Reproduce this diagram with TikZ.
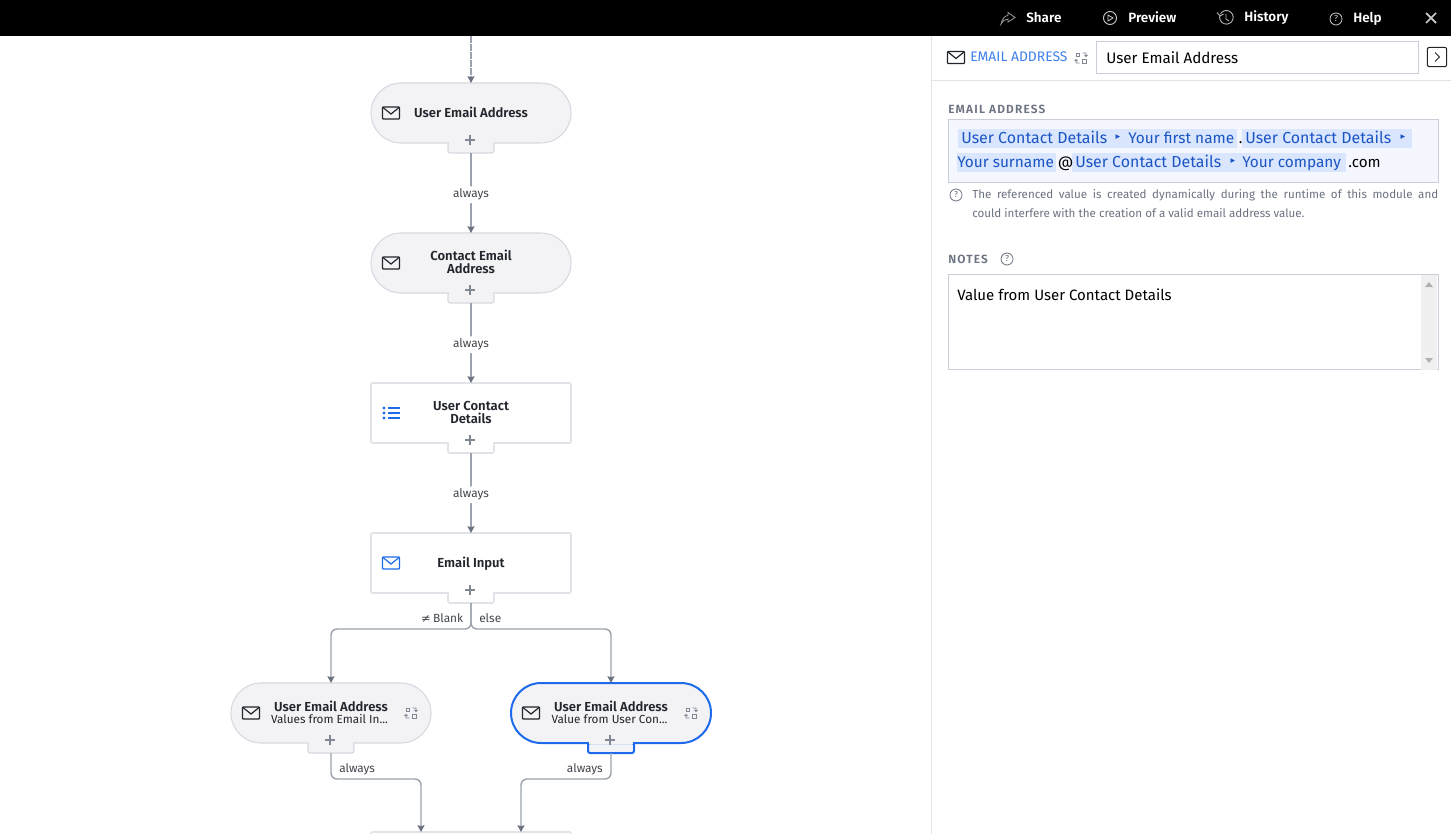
\documentclass[tikz,border=0pt]{standalone}
\usepackage{fontspec}
\setmainfont{Fira Sans}[BoldFont={Fira Sans SemiBold}]
\newfontfamily\symfont{DejaVu Sans}
\newfontfamily\fieldfont{Fira Sans SemiBold}[LetterSpace=10]
\usetikzlibrary{arrows.meta}
\definecolor{pillfill}{HTML}{F3F3F6}
\definecolor{pillline}{HTML}{D8D9E0}
\definecolor{boxline}{HTML}{E2E3E9}
\definecolor{wire}{HTML}{9CA3AF}
\definecolor{wiretip}{HTML}{6B7280}
\definecolor{selblue}{HTML}{1D6AEB}
\definecolor{inkdark}{HTML}{21252C}
\definecolor{greylabel}{HTML}{6B7280}
\definecolor{inputline}{HTML}{C9CED8}
\definecolor{chipfill}{HTML}{D9E6FD}
\definecolor{chiptext}{HTML}{1B55C4}
\definecolor{boxtint}{HTML}{F4F7FE}
\tikzset{
	flowtext/.style={font=\fontsize{9.8pt}{9.75pt}\selectfont\bfseries,text=inkdark,align=center,inner sep=0pt},
	pillbox/.style={draw=pillline,fill=pillfill,line width=0.8pt,rounded corners=22.5pt,minimum width=150pt,minimum height=45pt,outer sep=0pt,inner sep=0pt},
	rectbox/.style={draw=boxline,fill=white,line width=1.2pt,rounded corners=1pt,minimum width=150pt,minimum height=45pt,outer sep=0pt,inner sep=0pt},
	selbox/.style={pillbox,draw=selblue,line width=1.5pt},
	subtext/.style={font=\fontsize{8.8pt}{9pt}\selectfont,text=inkdark,inner sep=0pt},
	wirelabel/.style={font=\fontsize{8.9pt}{10pt}\selectfont,text=inkdark!85,inner sep=0pt},
	midlabel/.style={wirelabel,fill=white,inner ysep=2pt,inner xsep=0pt,yshift=-1.3pt},
	link/.style={draw=wire,line width=1.1pt,->,>={Stealth[length=5pt,width=5.2pt,inset=0.6pt,color=wiretip]},rounded corners=4.5pt},
	plusline/.style={draw=wiretip!85,line width=1.1pt},
	icongrey/.style={draw=wiretip!85,line width=0.7pt},
	barlabel/.style={font=\fontsize{10.1pt}{11pt}\selectfont\bfseries,text=white,anchor=west,inner sep=0pt},
	fieldlabel/.style={font=\fieldfont\fontsize{8.9pt}{10pt}\selectfont,text=greylabel,anchor=west,inner sep=0pt},
	chiplabel/.style={font=\fontsize{11.95pt}{13pt}\selectfont,text=chiptext,anchor=base west,inner sep=0pt},
	yourlabel/.style={chiplabel,font=\fontsize{11.55pt}{13pt}\selectfont},
	plainlabel/.style={font=\fontsize{11.4pt}{13pt}\selectfont,text=black,anchor=base west,inner sep=0pt},
	hintlabel/.style={font=\fontsize{8.7pt}{10pt}\selectfont,text=greylabel,anchor=west,inner sep=0pt},
	helpmark/.style={circle,draw=greylabel,line width=0.6pt,text=greylabel,font=\fontsize{6.5pt}{7pt}\selectfont,minimum size=9pt,inner sep=0pt}
}
\newcommand{\addtab}[3]{%
	\node[#2,rounded corners=1.5pt,minimum width=34.5pt,minimum height=7.5pt,anchor=north] (#1T) at (#1.south) {};
	\fill[#3] ([shift={(-22,-2)}]#1.south) rectangle ([shift={(22,1.2)}]#1.south);
	\draw[plusline] ([shift={(-6,-3)}]#1.south) -- ([shift={(4,-3)}]#1.south);
	\draw[plusline] ([shift={(-1,-8)}]#1.south) -- ([shift={(-1,2)}]#1.south);
}
\newcommand{\mailicon}[3]{%
	\begin{scope}[shift={(#1,#2)}]
		\draw[#3,line width=0.9pt,rounded corners=0.6pt] (-8.5,-6) rectangle (8.5,6);
		\draw[#3,line width=0.9pt] (-8,-5.5) -- (0,1) -- (8,-5.5);
	\end{scope}
}
\newcommand{\swapicon}[2]{%
	\begin{scope}[shift={(#1,#2)}]
		\draw[icongrey] (-5,-5) rectangle (-1.5,-1.5);
		\draw[icongrey] (1.5,1.5) rectangle (5,5);
		\draw[icongrey] (1.5,-5) -- (5,-5) -- (5,-1.5) (3.5,-3) -- (5,-1.5) -- (6.5,-3);
		\draw[icongrey] (-1.5,5) -- (-5,5) -- (-5,1.5) (-3.5,3) -- (-5,1.5) -- (-6.5,3);
	\end{scope}
}
\begin{document}
	\begin{tikzpicture}[x=0.75pt,y=-0.75pt]
		\path[use as bounding box,clip] (0,0) rectangle (1451,834);
		\fill[white] (0,0) rectangle (1451,834);
		\fill[black] (0,0) rectangle (1451,36);
		\draw[boxline,line width=1.2pt] (931.5,36) -- (931.5,834);
		\draw[boxline,line width=0.8pt] (932,80.5) -- (1451,80.5);
		
		\node[pillbox] (userEmail) at (471,113) {};
		\node[flowtext] (userEmailTxt) at (471,112.2) {User Email Address};
		\node[pillbox] (contactEmail) at (471,263) {};
		\node[flowtext] (contactEmailTxt) at (471,261.8) {Contact Email\\Address};
		\node[rectbox] (contactDetails) at (471,413) {};
		\node[flowtext] (contactDetailsTxt) at (471,412.3) {User Contact\\Details};
		\node[rectbox] (emailInput) at (471,563) {};
		\node[flowtext] (emailInputTxt) at (471,563.3) {Email Input};
		\node[pillbox] (leftEmail) at (331,713) {};
		\node[flowtext] (leftEmailTxt) at (331,706) {User Email Address};
		\node[subtext] (leftEmailSub) at (329.5,719) {Values from Email In...};
		\node[selbox] (rightEmail) at (611,713) {};
		\node[flowtext] (rightEmailTxt) at (611,706) {User Email Address};
		\node[subtext] (rightEmailSub) at (609.5,719) {Value from User Con...};
		\node[rectbox] (nextStep) at (471,862) {};
		
		\addtab{userEmail}{pillbox}{pillfill}
		\addtab{contactEmail}{pillbox}{pillfill}
		\addtab{contactDetails}{rectbox}{white}
		\addtab{emailInput}{rectbox}{white}
		\addtab{leftEmail}{pillbox}{pillfill}
		\addtab{rightEmail}{selbox}{pillfill}
		
		\coordinate (topIn) at (471,36);
		\coordinate (mergeL) at (421,832);
		\coordinate (mergeR) at (521,832);
		\draw[link,dashed,dash pattern=on 5pt off 1pt] (topIn) -- (userEmail.north);
		\draw[link] (userEmailT.south) -- node[midlabel] (alwaysA) {always} (contactEmail.north);
		\draw[link] (contactEmailT.south) -- node[midlabel] (alwaysB) {always} (contactDetails.north);
		\draw[link] (contactDetailsT.south) -- node[midlabel] (alwaysC) {always} (emailInput.north);
		\draw[link] (emailInputT.south) -- ++(0,26) -| (leftEmail.north);
		\draw[link] (emailInputT.south) -- ++(0,26) -| (rightEmail.north);
		\draw[link] (leftEmailT.south) -- ++(0,26) -| (mergeL);
		\draw[link] (rightEmailT.south) -- ++(0,26) -| (mergeR);
		\node[wirelabel,anchor=east] (blankLbl) at (463.5,618.5) {{\symfont\fontsize{8.6pt}{9pt}\selectfont≠}\hspace{1.8pt}Blank};
		\node[wirelabel,anchor=west] (elseLbl) at (479,618.5) {else};
		\node[wirelabel,anchor=west] (alwaysD) at (339,769) {always};
		\node[wirelabel,anchor=east] (alwaysE) at (603,769) {always};
		
		\mailicon{391}{113}{inkdark}
		\mailicon{391}{263}{inkdark}
		\mailicon{391}{563}{selblue}
		\mailicon{251}{713}{inkdark}
		\mailicon{531}{713}{inkdark}
		\swapicon{411}{713}
		\swapicon{691}{713}
		\foreach \yy in {-5,0,5}{
			\fill[selblue] (384,413+\yy) circle(1.7);
			\draw[selblue,line width=0.9pt] (388,413+\yy) -- (400,413+\yy);
		}
		
		\node[barlabel] (shareLbl) at (1026,17.5) {Share};
		\node[barlabel] (previewLbl) at (1128,17.5) {Preview};
		\node[barlabel] (historyLbl) at (1244,17.5) {History};
		\node[barlabel] (helpLbl) at (1353,18.5) {Help};
		\draw[icongrey,draw=white!55!black] (1001,24) .. controls (1002,19) and (1005,15.5) .. (1008,15.5) -- (1008,12.5) -- (1015,17.5) -- (1008,22) -- (1008,19) .. controls (1005,19) and (1003,21) .. cycle;
		\draw[white!80!black,line width=0.7pt] (1110,18) circle(6.5);
		\draw[white!80!black,line width=0.6pt] (1108,15) -- (1113,18) -- (1108,21) -- cycle;
		\draw[white!70!black,line width=0.7pt] (1220,15) arc(200:-150:6.8);
		\draw[white!70!black,line width=0.7pt] (1217,12.5) -- (1220,16) -- (1223.5,14) (1226,14) -- (1226,19) -- (1229,21);
		\node[helpmark,draw=white!80!black,text=white!80!black] (helpMark) at (1336,19) {?};
		\draw[white!80!black,line width=1.3pt] (1426,13) -- (1436,23) (1436,13) -- (1426,23);
		
		\mailicon{956}{57.5}{inkdark}
		\node[anchor=west,inner sep=0pt,text=selblue!85!white,font=\fontsize{10.4pt}{11pt}\selectfont] (kindLbl) at (970,57) {EMAIL ADDRESS};
		\swapicon{1081}{58}
		\node[draw=inputline,line width=0.7pt,minimum width=242pt,minimum height=23.5pt,outer sep=0pt,inner sep=0pt] (nameField) at (1257.5,57.5) {};
		\node[plainlabel] (nameTxt) at (1106,63.5) {User Email Address};
		\node[draw=inkdark,line width=0.8pt,rounded corners=1.5pt,minimum width=14.5pt,minimum height=14.5pt,inner sep=0pt] (collapseBtn) at (1437,57) {};
		\draw[inkdark,line width=0.7pt] (1435,52.5) -- (1439.5,57) -- (1435,61.5);
		
		\node[fieldlabel] (addressLbl) at (948,109.5) {EMAIL ADDRESS};
		\node[draw=inputline,fill=boxtint,line width=0.7pt,minimum width=367.5pt,minimum height=47.25pt,outer sep=0pt,inner sep=0pt] (addressBox) at (1193,150.5) {};
		\fill[chipfill] (958,129) rectangle (1237,148);
		\fill[chipfill] (1242,129) rectangle (1412,148);
		\fill[chipfill] (957,153) rectangle (1056,172);
		\fill[chipfill] (1072,153) rectangle (1346,172);
		\foreach \nm/\xx/\yy in {refA/961/144,refC/1245/144,refE/1075/168}{
			\node[chiplabel] (\nm) at (\xx,\yy) {User Contact Details};
		}
		\foreach \nm/\xx/\yy/\txt in {refB/1128/144/Your first name,refD/957/168/Your surname,refF/1242/168/Your company}{
			\node[yourlabel] (\nm) at (\xx,\yy) {\txt};
		}
		\foreach \nm/\xx/\yy in {sepA/1118/137.5,sepB/1403/137.5,sepC/1233/161.5}{
			\node[inner sep=0pt,text=chiptext,font=\symfont\fontsize{7pt}{8pt}\selectfont] (\nm) at (\xx,\yy) {▸};
		}
		\node[plainlabel] (dotLbl) at (1238.7,144) {.};
		\node[plainlabel] (atLbl) at (1057.5,168) {@};
		\node[plainlabel] (comLbl) at (1348,168) {.com};
		
		\node[helpmark] (hintMark) at (956,195) {?};
		\node[hintlabel] (hintA) at (972,195) {\makebox[349.5pt][s]{The referenced value is created dynamically during the runtime of this module and}};
		\node[hintlabel] (hintB) at (972,213) {could interfere with the creation of a valid email address value.};
		
		\node[fieldlabel] (notesLbl) at (948,259.5) {NOTES};
		\node[helpmark] (notesMark) at (1007,259) {?};
		\node[draw=inputline,fill=white,line width=0.7pt,minimum width=367.5pt,minimum height=71.5pt,outer sep=0pt,inner sep=0pt] (notesBox) at (1193,322) {};
		\fill[black!6] (1421,275) rectangle (1437,369.5);
		\fill[black!30] (1425,287) -- (1433,287) -- (1429,282) -- cycle;
		\fill[black!30] (1425,358) -- (1433,358) -- (1429,363) -- cycle;
		\node[plainlabel,font=\fontsize{11.25pt}{13pt}\selectfont] (notesTxt) at (957,300) {Value from User Contact Details};
	\end{tikzpicture}
\end{document}
